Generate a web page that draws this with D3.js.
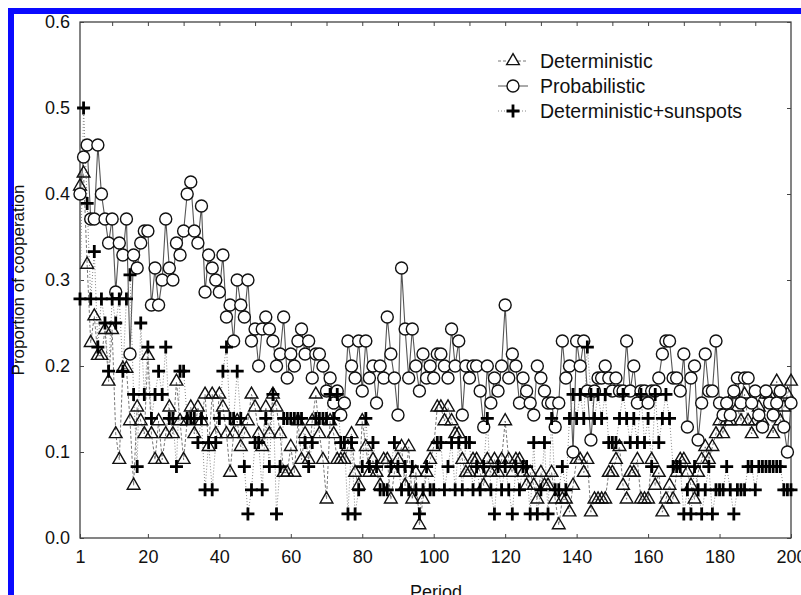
<!DOCTYPE html>
<html><head><meta charset="utf-8">
<script src="https://cdn.jsdelivr.net/npm/d3@7"></script>
<style>body{margin:0;background:#fff}svg{display:block}text{font-family:"Liberation Sans",Arial,sans-serif;fill:#111}</style>
</head><body><svg id="c" width="801" height="595"></svg>
<script>
const deterministic = [
0.409,0.424,0.318,0.227,0.258,0.212,0.212,0.242,0.182,0.242,
0.121,0.091,0.197,0.197,0.136,0.061,0.152,0.136,0.121,0.212,
0.121,0.091,0.136,0.091,0.121,0.152,0.121,0.182,0.136,0.091,
0.136,0.152,0.121,0.152,0.136,0.167,0.106,0.167,0.121,0.167,
0.152,0.121,0.076,0.121,0.136,0.106,0.121,0.136,0.167,0.152,
0.121,0.106,0.152,0.121,0.167,0.152,0.121,0.076,0.076,0.106,
0.076,0.136,0.091,0.121,0.091,0.136,0.167,0.121,0.091,0.045,
0.136,0.121,0.091,0.091,0.091,0.106,0.121,0.076,0.061,0.136,
0.106,0.076,0.091,0.076,0.061,0.091,0.091,0.045,0.076,0.091,
0.106,0.061,0.106,0.045,0.076,0.015,0.045,0.076,0.091,0.106,
0.152,0.152,0.136,0.152,0.136,0.121,0.121,0.091,0.076,0.076,
0.091,0.091,0.076,0.061,0.091,0.076,0.091,0.076,0.091,0.136,
0.091,0.076,0.091,0.091,0.076,0.061,0.076,0.061,0.045,0.076,
0.061,0.061,0.076,0.045,0.015,0.045,0.045,0.030,0.061,0.091,
0.091,0.076,0.091,0.030,0.045,0.045,0.045,0.045,0.076,0.076,
0.091,0.106,0.061,0.045,0.076,0.076,0.091,0.045,0.045,0.045,
0.091,0.061,0.076,0.030,0.045,0.061,0.045,0.076,0.091,0.091,
0.076,0.061,0.045,0.076,0.091,0.106,0.091,0.106,0.121,0.136,
0.121,0.136,0.136,0.167,0.152,0.136,0.167,0.136,0.121,0.136,
0.152,0.136,0.167,0.167,0.121,0.182,0.136,0.152,0.167,0.182];

const probabilistic = [
0.400,0.443,0.457,0.371,0.371,0.457,0.400,0.371,0.343,0.371,
0.286,0.343,0.329,0.371,0.214,0.329,0.314,0.343,0.357,0.357,
0.271,0.314,0.271,0.300,0.371,0.314,0.300,0.343,0.329,0.357,
0.400,0.414,0.357,0.343,0.386,0.286,0.329,0.314,0.300,0.286,
0.329,0.257,0.271,0.229,0.300,0.271,0.257,0.300,0.229,0.243,
0.200,0.243,0.257,0.243,0.229,0.200,0.214,0.257,0.186,0.214,
0.200,0.229,0.243,0.214,0.229,0.186,0.214,0.214,0.200,0.171,
0.186,0.157,0.171,0.143,0.157,0.229,0.200,0.186,0.229,0.171,
0.229,0.186,0.200,0.157,0.200,0.186,0.257,0.214,0.186,0.143,
0.314,0.243,0.186,0.243,0.200,0.171,0.214,0.186,0.200,0.186,
0.214,0.214,0.200,0.186,0.243,0.200,0.229,0.143,0.200,0.186,
0.200,0.200,0.171,0.129,0.200,0.157,0.186,0.171,0.200,0.271,
0.186,0.214,0.200,0.157,0.186,0.171,0.157,0.143,0.200,0.186,
0.171,0.157,0.157,0.129,0.157,0.229,0.186,0.200,0.100,0.229,
0.200,0.229,0.171,0.114,0.171,0.186,0.186,0.200,0.186,0.171,
0.186,0.171,0.171,0.229,0.171,0.200,0.157,0.171,0.171,0.157,
0.171,0.171,0.186,0.214,0.229,0.229,0.186,0.186,0.171,0.214,
0.129,0.186,0.200,0.114,0.157,0.214,0.171,0.171,0.229,0.157,
0.143,0.157,0.143,0.171,0.186,0.157,0.186,0.186,0.157,0.171,
0.143,0.129,0.171,0.157,0.143,0.157,0.171,0.129,0.100,0.157];

const sunspots = [
0.278,0.500,0.389,0.278,0.333,0.222,0.278,0.250,0.194,0.278,
0.250,0.278,0.194,0.278,0.306,0.167,0.083,0.250,0.167,0.222,
0.139,0.167,0.194,0.167,0.222,0.139,0.139,0.083,0.194,0.194,
0.139,0.139,0.139,0.111,0.139,0.056,0.111,0.056,0.111,0.139,
0.194,0.222,0.139,0.139,0.194,0.139,0.083,0.028,0.056,0.111,
0.111,0.056,0.139,0.083,0.167,0.028,0.083,0.139,0.139,0.139,
0.139,0.139,0.139,0.111,0.083,0.111,0.139,0.139,0.139,0.139,
0.167,0.139,0.167,0.111,0.111,0.028,0.111,0.028,0.056,0.083,
0.139,0.083,0.111,0.083,0.056,0.056,0.056,0.083,0.111,0.083,
0.056,0.083,0.056,0.083,0.056,0.028,0.056,0.083,0.056,0.056,
0.111,0.111,0.056,0.083,0.111,0.056,0.111,0.056,0.111,0.111,
0.056,0.083,0.056,0.083,0.139,0.056,0.028,0.083,0.056,0.083,
0.056,0.028,0.083,0.056,0.083,0.083,0.028,0.111,0.028,0.056,
0.111,0.028,0.139,0.056,0.056,0.083,0.056,0.139,0.167,0.139,
0.167,0.139,0.222,0.167,0.139,0.167,0.139,0.167,0.111,0.111,
0.111,0.139,0.167,0.139,0.111,0.139,0.111,0.167,0.111,0.139,
0.083,0.167,0.111,0.139,0.167,0.139,0.083,0.083,0.083,0.028,
0.056,0.028,0.083,0.056,0.028,0.056,0.083,0.028,0.056,0.056,
0.056,0.083,0.056,0.028,0.056,0.056,0.056,0.083,0.083,0.056,
0.083,0.083,0.083,0.083,0.083,0.083,0.083,0.056,0.056,0.056];

const periods = d3.range(1, 201);
const xTicks = [1,20,40,60,80,100,120,140,160,180,200];
const xMinor = d3.range(10, 200, 10);
const yTicks = [0,0.1,0.2,0.3,0.4,0.5,0.6];
const seriesNames = ["Deterministic","Probabilistic","Deterministic+sunspots"];

const svg = d3.select("#c");
const x = d3.scaleLinear().domain([1,200]).range([80,791]);
const y = d3.scaleLinear().domain([0,0.6]).range([538,22]);

// blue border
svg.append("rect").attr("x",11).attr("y",11).attr("width",820).attr("height",620)
  .attr("fill","none").attr("stroke","#0a0aff").attr("stroke-width",6);

// frame
svg.append("rect").attr("x",80).attr("y",22).attr("width",711).attr("height",516)
  .attr("fill","none").attr("stroke","#333").attr("stroke-width",1.2);

const fmt = d3.format(".1f");
const gl = svg.append("g").attr("transform","translate(80,0)")
  .call(d3.axisLeft(y).tickValues(yTicks).tickFormat(fmt).tickSize(-4).tickPadding(10));
const gb = svg.append("g").attr("transform","translate(0,538)")
  .call(d3.axisBottom(x).tickValues(xTicks).tickFormat(d3.format("d")).tickSize(-4).tickPadding(12));
const gt = svg.append("g").attr("transform","translate(0,22)")
  .call(d3.axisTop(x).tickValues(xMinor).tickFormat("").tickSize(-4));
const gr = svg.append("g").attr("transform","translate(791,0)")
  .call(d3.axisRight(y).tickValues(yTicks).tickFormat("").tickSize(-4));
[gl,gb,gt,gr].forEach(g=>{
  g.select(".domain").remove();
  g.selectAll(".tick line").attr("stroke","#444");
  g.selectAll("text").attr("font-size",18).attr("fill","#111").attr("font-family","Liberation Sans, Arial, sans-serif");
});

svg.append("text").attr("transform","translate(24,280) rotate(-90)")
  .attr("text-anchor","middle").attr("font-size",17).text("Proportion of cooperation");
svg.append("text").attr("x",436).attr("y",598).attr("text-anchor","middle")
  .attr("font-size",18).text("Period");

const line = d3.line().x((d,i)=>x(periods[i])).y(d=>y(d));
const plot = svg.append("g");

const tri = d3.symbol().type(d3.symbolTriangle).size(70);
const plus = "M-6.5,0H6.5M0,-6.5V6.5";

// Deterministic
plot.append("path").datum(deterministic).attr("d",line).attr("fill","none")
  .attr("stroke","#777").attr("stroke-width",1).attr("stroke-dasharray","3,2");
// Probabilistic
plot.append("path").datum(probabilistic).attr("d",line).attr("fill","none")
  .attr("stroke","#555").attr("stroke-width",1.1);
// Sunspots
plot.append("path").datum(sunspots).attr("d",line).attr("fill","none")
  .attr("stroke","#888").attr("stroke-width",1).attr("stroke-dasharray","1,2");

plot.append("g").selectAll("path").data(deterministic).join("path")
  .attr("transform",(d,i)=>`translate(${x(periods[i])},${y(d)})`)
  .attr("d",tri()).attr("fill","none").attr("stroke","#111").attr("stroke-width",1.4);
plot.append("g").selectAll("circle").data(probabilistic).join("circle")
  .attr("cx",(d,i)=>x(periods[i])).attr("cy",d=>y(d)).attr("r",6)
  .attr("fill","#fff").attr("stroke","#111").attr("stroke-width",1.4);
plot.append("g").selectAll("path").data(sunspots).join("path")
  .attr("transform",(d,i)=>`translate(${x(periods[i])},${y(d)})`)
  .attr("d",plus).attr("stroke","#000").attr("stroke-width",2.8);

// legend
const leg = svg.append("g");
const ly = [61,86,111];
const dash = ["3,2",null,"1,2"];
const lcol = ["#777","#555","#888"];
seriesNames.forEach((n,i)=>{
  leg.append("line").attr("x1",498).attr("x2",528).attr("y1",ly[i]).attr("y2",ly[i])
    .attr("stroke",lcol[i]).attr("stroke-width",1).attr("stroke-dasharray",dash[i]);
  if(i===0) leg.append("path").attr("transform",`translate(513,${ly[i]})`).attr("d",tri())
    .attr("fill","#fff").attr("stroke","#111").attr("stroke-width",1.4);
  if(i===1) leg.append("circle").attr("cx",513).attr("cy",ly[i]).attr("r",6)
    .attr("fill","#fff").attr("stroke","#111").attr("stroke-width",1.4);
  if(i===2) leg.append("path").attr("transform",`translate(513,${ly[i]})`).attr("d",plus)
    .attr("stroke","#000").attr("stroke-width",2.8);
  leg.append("text").attr("x",540).attr("y",ly[i]).attr("dy","0.35em")
    .attr("font-size",19.5).text(n);
});
</script></body></html>
